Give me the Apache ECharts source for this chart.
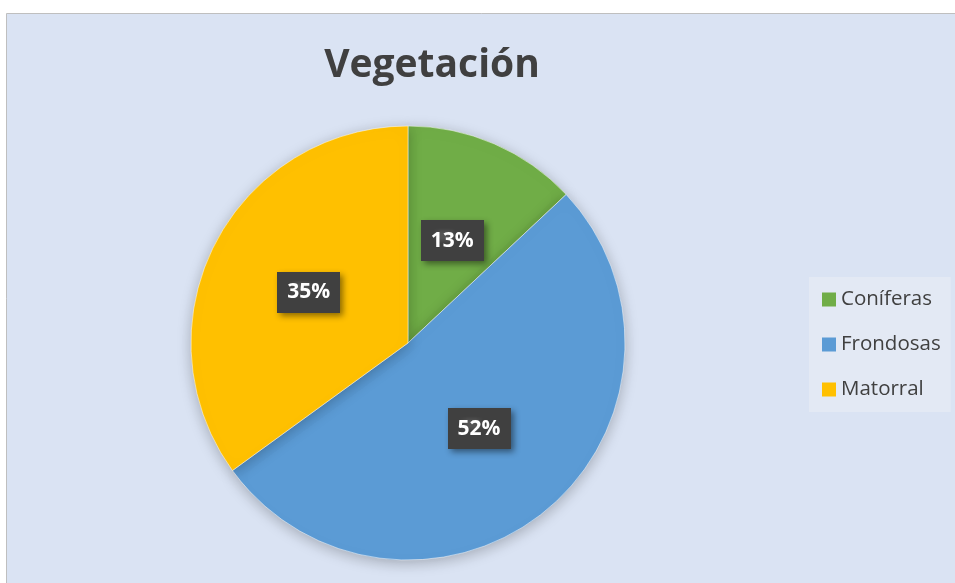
<!DOCTYPE html>
<html>
<head>
<meta charset="utf-8">
<script src="https://cdn.jsdelivr.net/npm/echarts@6/dist/echarts.min.js"></script>
<style>
  html, body { margin: 0; padding: 0; background: #ffffff; }
  #chart { width: 955px; height: 583px; }
</style>
</head>
<body>
<div id="chart"></div>
<script>
// datos del gráfico
const categorias = ['Coníferas', 'Frondosas', 'Matorral'];
const valores = [13, 52, 35];
const colores = ['#70ad47', '#5b9bd5', '#ffc000'];

// fondo punteado de las etiquetas
const patron = document.createElement('canvas');
patron.width = 8; patron.height = 8;
const ctx = patron.getContext('2d');
ctx.fillStyle = '#404040';
ctx.fillRect(0, 0, 8, 8);
ctx.fillStyle = '#555555';
ctx.fillRect(2, 2, 2, 2);

let myChart = echarts.init(document.getElementById('chart'));
let option = {
  backgroundColor: '#ffffff',
  graphic: [{
    type: 'rect',
    shape: { x: 6.5, y: 13.5, width: 960, height: 580 },
    style: { fill: '#dae3f3', stroke: '#bfbfbf', lineWidth: 1 },
    z: -10
  }],
  title: {
    text: 'Vegetación',
    left: 427,
    top: 41,
    textAlign: 'center',
    textStyle: {
      fontFamily: 'Open Sans',
      fontWeight: 'bold',
      fontSize: 39,
      color: '#404040'
    }
  },
  legend: {
    orient: 'vertical',
    left: 809,
    top: 277,
    data: categorias,
    backgroundColor: '#e3e9f4',
    padding: [12, 10, 12, 13],
    itemGap: 24,
    itemWidth: 14,
    itemHeight: 14,
    icon: 'rect',
    itemStyle: { borderWidth: 0 },
    textStyle: {
      fontFamily: 'Open Sans',
      fontSize: 20.5,
      color: '#404040',
      padding: [0, 0, 0, 0]
    }
  },
  series: [{
    type: 'pie',
    center: [408, 343],
    radius: 217,
    startAngle: 90,
    clockwise: true,
    itemStyle: {
      borderColor: '#ffffff',
      borderWidth: 0.5,
      shadowBlur: 14,
      shadowColor: 'rgba(0,0,0,0.25)',
      shadowOffsetY: 3
    },
    label: {
      show: true,
      position: 'inside',
      formatter: '{d}%',
      color: '#ffffff',
      fontFamily: 'Open Sans',
      fontWeight: 'bold',
      fontSize: 21,
      backgroundColor: { image: patron },
      padding: [11, 10, 9, 10],
      shadowBlur: 6,
      shadowOffsetX: 3,
      shadowOffsetY: 3,
      shadowColor: 'rgba(0,0,0,0.45)'
    },
    labelLine: { show: false },
    emphasis: { disabled: true },
    data: categorias.map((c, i) => ({
      name: c,
      value: valores[i],
      itemStyle: { color: colores[i] }
    }))
  }]
};
myChart.setOption(option);
</script>
</body>
</html>
